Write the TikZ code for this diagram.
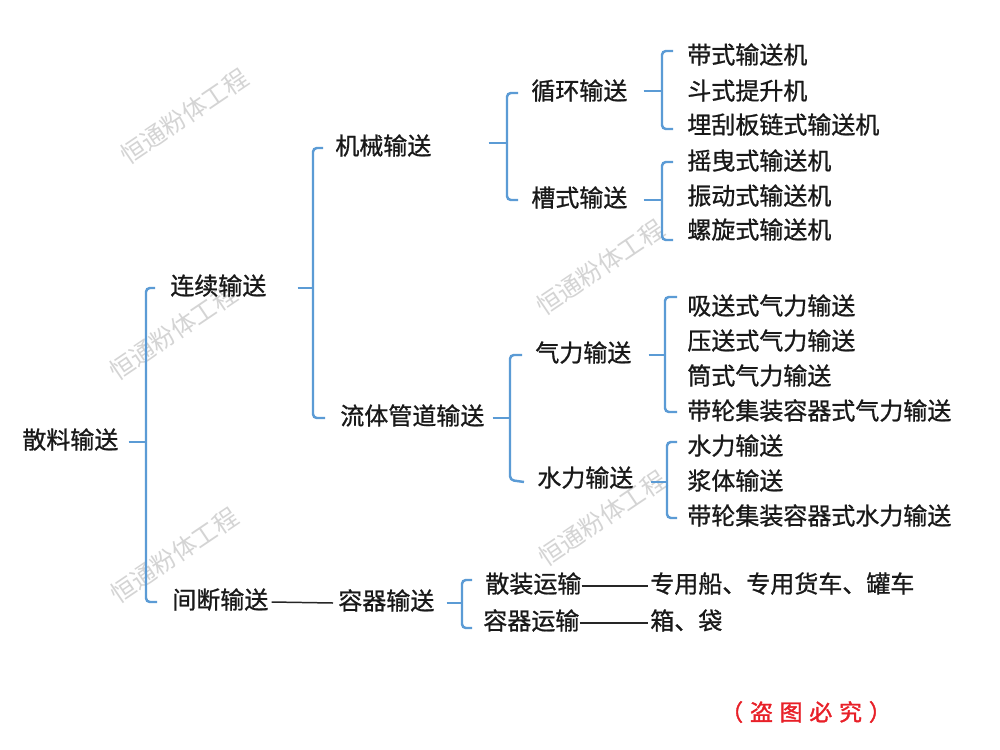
\documentclass[tikz,border=0pt]{standalone}
\usepackage{fontspec}
\setmainfont{Noto Sans CJK SC}[FakeBold=0.9]
\newfontfamily\wmfontfam{Noto Sans CJK SC}
\newfontfamily\stampfont[FakeBold=1.5]{Noto Sans CJK SC}
\usetikzlibrary{calc}
\definecolor{brblue}{RGB}{91,155,213}
\definecolor{wmgray}{RGB}{212,212,212}
\definecolor{stampred}{RGB}{232,32,40}
\tikzset{
  lbl/.style={anchor=west, inner sep=0pt, font=\fontsize{13.66}{16}\selectfont, text height=0.83em, text depth=0.07em, text=black!90},
  br/.style={draw=brblue, line width=1.4pt, rounded corners=2.2pt},
  dl/.style={draw=black!85, line width=0.85pt},
  wm/.style={font=\wmfontfam\fontsize{14}{16}\selectfont, text=wmgray, rotate=34, inner sep=0pt},
  stamp/.style={font=\stampfont\fontsize{13}{16}\selectfont, text=stampred, inner sep=0pt},
}
\begin{document}
\begin{tikzpicture}[x=0.02cm,y=-0.02cm]
\useasboundingbox[fill=white] (0,0) rectangle (1000,750);

% watermarks
\node[wm] (w1) at (184,116) {恒通粉体工程};
\node[wm] (w2) at (173,332) {恒通粉体工程};
\node[wm] (w3) at (174,555) {恒通粉体工程};
\node[wm] (w4) at (600,267) {恒通粉体工程};
\node[wm] (w5) at (602,518) {恒通粉体工程};

% nodes
\node[lbl] (root) at (22,442) {散料输送};
\node[lbl] (lx) at (170,288) {连续输送};
\node[lbl] (jd) at (172,602) {间断输送};
\node[lbl] (jx) at (335,148) {机械输送};
\node[lbl] (lt) at (340,418) {流体管道输送};
\node[lbl] (xh) at (531,93) {循环输送};
\node[lbl] (cs) at (531,200) {槽式输送};
\node[lbl] (a1) at (687,57) {带式输送机};
\node[lbl] (a2) at (687,93) {斗式提升机};
\node[lbl] (a3) at (687,127) {埋刮板链式输送机};
\node[lbl] (b1) at (687,163) {摇曳式输送机};
\node[lbl] (b2) at (687,198) {振动式输送机};
\node[lbl] (b3) at (687,232) {螺旋式输送机};
\node[lbl] (ql) at (535,355) {气力输送};
\node[lbl] (sl) at (537,480) {水力输送};
\node[lbl] (c1) at (687,308) {吸送式气力输送};
\node[lbl] (c2) at (687,343) {压送式气力输送};
\node[lbl] (c3) at (687,378) {筒式气力输送};
\node[lbl] (c4) at (687,413) {带轮集装容器式气力输送};
\node[lbl] (d1) at (687,448) {水力输送};
\node[lbl] (d2) at (687,483) {浆体输送};
\node[lbl] (d3) at (687,518) {带轮集装容器式水力输送};
\node[lbl] (rq) at (338,603) {容器输送};
\node[lbl] (sz) at (485,586) {散装运输};
\node[lbl] (ry) at (483,623) {容器运输};
\node[lbl] (e1) at (650,586) {专用船、专用货车、罐车};
\node[lbl] (e2) at (650,623) {箱、袋};

\node[stamp] (st) at (806,712) {（\hspace{0.3em}盗\hspace{0.3em}图\hspace{0.3em}必\hspace{0.3em}究\hspace{0.3em}）};

% spine coordinates
\coordinate (s1) at (146,0);
\coordinate (s2) at (313,0);
\coordinate (s3) at (507,0);
\coordinate (s4) at (662,0);
\coordinate (s6) at (510,0);
\coordinate (s7) at (665,0);
\coordinate (s8) at (667,0);
\coordinate (s9) at (462,0);

% bracket 1
\draw[br] ($(root.east)+(10,0)$) -- (root.east -| s1);
\draw[br] ($(lx.west)+(-15,0)$) -- (lx.west -| s1) -- (jd.west -| s1) -- ($(jd.west)+(-15,0)$);
% bracket 2
\draw[br] ($(lx.east)+(31,0)$) -- (lx.east -| s2);
\draw[br] ($(jx.west)+(-12,0)$) -- (jx.west -| s2) -- (lt.west -| s2) -- ($(lt.west)+(-15,0)$);
% bracket 3
\draw[br] ($(jx.east)+(57,-5)$) -- ($(jx.east -| s3)+(0,-5)$);
\draw[br] ($(xh.west)+(-13,0)$) -- (xh.west -| s3) -- (cs.west -| s3) -- ($(cs.west)+(-13,0)$);
% bracket 4
\draw[br] ($(xh.east)+(16,-2)$) -- ($(xh.east -| s4)+(0,-2)$);
\draw[br] ($(a1.west)+(-14,-6)$) -- ($(a1.west -| s4)+(0,-6)$) -- ($(a3.west -| s4)+(0,2)$) -- ($(a3.west)+(-14,2)$);
% bracket 5
\draw[br] ($(cs.east)+(16,0)$) -- (cs.east -| s4);
\draw[br] ($(b1.west)+(-14,-1)$) -- ($(b1.west -| s4)+(0,-1)$) -- ($(b3.west -| s4)+(0,8)$) -- ($(b3.west)+(-14,8)$);
% bracket 6
\draw[br] ($(lt.east)+(8,0)$) -- (lt.east -| s6);
\draw[br] ($(ql.west)+(-13,0)$) -- (ql.west -| s6) -- (sl.west -| s6) -- ($(sl.west)+(-13,2)$);
% bracket 7
\draw[br] ($(ql.east)+(17,0)$) -- (ql.east -| s7);
\draw[br] ($(c1.west)+(-10,-11)$) -- ($(c1.west -| s7)+(0,-11)$) -- ($(c4.west -| s7)+(0,-1)$) -- ($(c4.west)+(-10,-1)$);
% bracket 8
\draw[br] ($(sl.east)+(17,2)$) -- ($(sl.east -| s8)+(0,2)$);
\draw[br] ($(d1.west)+(-10,-6)$) -- ($(d1.west -| s8)+(0,-6)$) -- (d3.west -| s8) -- ($(d3.west)+(-10,0)$);
% bracket 9
\draw[br] ($(rq.east)+(12,0)$) -- (rq.east -| s9);
\draw[br] ($(sz.west)+(-13,-6)$) -- ($(sz.west -| s9)+(0,-6)$) -- ($(ry.west -| s9)+(0,5)$) -- ($(ry.west)+(-11,5)$);

% dash connectors
\draw[dl] ($(jd.east)+(3,0)$) -- ($(rq.west)+(-5,0)$);
\draw[dl] ($(sz.east)+(0,0)$) -- ($(e1.west)+(-2,0)$);
\draw[dl] ($(ry.east)+(0,0)$) -- ($(e2.west)+(-2,0)$);
\end{tikzpicture}
\end{document}
